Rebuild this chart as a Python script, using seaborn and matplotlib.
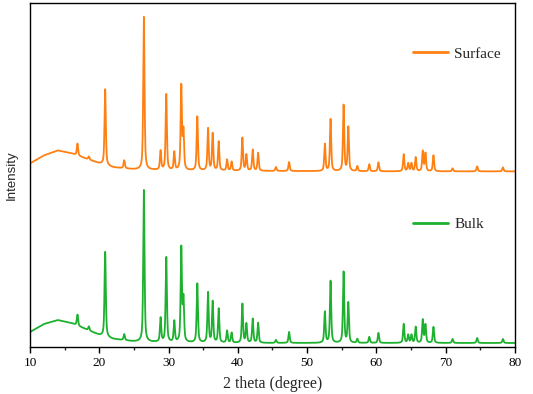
import numpy as np
import pandas as pd
import matplotlib
matplotlib.use("Agg")
import matplotlib.pyplot as plt
import seaborn as sns

# peak positions (2 theta, degree)
peak_pos = [16.85, 18.5, 20.85, 23.6, 26.44, 28.85, 29.67, 30.83, 31.84, 32.15,
            34.15, 35.7, 36.37, 37.24, 38.45, 39.1, 40.66, 41.24, 42.15, 42.93,
            45.5, 47.4, 52.57, 53.39, 55.27, 55.95, 57.25, 58.98, 60.3, 63.95,
            64.6, 65.07, 65.68, 66.7, 67.09, 68.24, 71.0, 74.55, 78.27]
# peak heights above background (arbitrary units)
surface_h = [12, 3, 76, 8, 153, 19, 76, 18, 84, 38,
             54, 42, 37, 29, 11, 9, 33, 16, 21, 18,
             4, 9, 27, 52, 66, 44, 5, 7, 9, 17,
             8, 8, 14, 20, 18, 16, 3, 5, 4]
bulk_h = [11, 4, 85, 6, 152, 24, 85, 21, 94, 42,
          59, 50, 41, 34, 12, 10, 39, 19, 24, 20,
          3, 11, 31, 62, 71, 40, 4, 6, 10, 19,
          8, 8, 16, 23, 18, 16, 4, 5, 4]
# background (amorphous hump) read at a few angles
bg_x = [10, 12, 14, 16, 18, 20, 22, 25, 30, 40, 60, 80]
surface_bg = [184, 192, 197, 194, 189, 184, 180, 178, 177, 176.5, 176, 176]
bulk_bg = [15, 23, 27, 24, 18, 12, 8, 5.5, 4.5, 4, 4, 4]

theta = np.arange(10, 80.001, 0.01)


def pattern(heights, bg):
    y = np.interp(theta, bg_x, bg)
    for p, h in zip(peak_pos, heights):
        w = 0.11
        y = y + h * (0.6 / (1 + ((theta - p) / w) ** 2) + 0.4 * np.exp(-np.log(2) * ((theta - p) / w) ** 2))
    return y


df = pd.DataFrame({"theta": theta,
                   "Surface": pattern(surface_h, surface_bg),
                   "Bulk": pattern(bulk_h, bulk_bg)})

sns.set_style("ticks")
plt.rcParams['font.family'] = ['Liberation Serif', 'DejaVu Serif']

fig = plt.figure(figsize=(5.33, 3.94), dpi=100)
ax = fig.add_axes([0.0563, 0.1193, 0.9097, 0.8737])

l1, = ax.plot(df["theta"], df["Surface"], color="#FF8012", lw=1.3)
l2, = ax.plot(df["theta"], df["Bulk"], color="#1DB12F", lw=1.3)

ax.set_xlim(10, 80)
ax.set_ylim(0, 345)
ax.set_xticks(range(10, 81, 10))
ax.set_xticks(range(15, 80, 10), minor=True)
ax.set_yticks([])
ax.tick_params(axis="x", which="major", direction="out", length=4, width=1, labelsize=9.5, pad=3, colors="black")
ax.tick_params(axis="x", which="minor", direction="out", length=2.5, width=1)
for s in ax.spines.values():
    s.set_linewidth(1.0)
    s.set_color("black")

ax.set_xlabel("2 theta (degree)", fontsize=11.3, labelpad=5)
ax.set_ylabel("Intensity", fontsize=9.5, family=["Liberation Sans", "DejaVu Sans"], labelpad=9)

leg1 = ax.legend([l1], ["Surface"], loc="center left", bbox_to_anchor=(0.762, 0.852),
                 frameon=False, fontsize=11, handlelength=2.3, handletextpad=0.4)
for h in leg1.legend_handles:
    h.set_linewidth(2)
ax.add_artist(leg1)
leg2 = ax.legend([l2], ["Bulk"], loc="center left", bbox_to_anchor=(0.762, 0.357),
                 frameon=False, fontsize=11, handlelength=2.3, handletextpad=0.4)
for h in leg2.legend_handles:
    h.set_linewidth(2)

fig.savefig("out.png", dpi=100)
